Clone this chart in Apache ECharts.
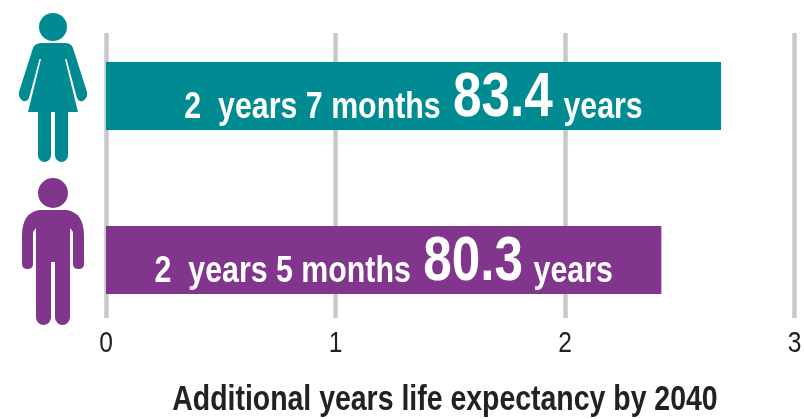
<!DOCTYPE html>
<html>
<head>
<meta charset="utf-8">
<style>html,body{margin:0;padding:0;background:#fff}#c{width:804px;height:419px}</style>
<script src="https://cdn.jsdelivr.net/npm/echarts@6/dist/echarts.min.js"></script>
</head>
<body>
<div id="c"></div>
<script>
const categories = ['Women', 'Men'];
const additionalYears = [2.68, 2.42];
const gainText = ['2  years 7 months', '2  years 5 months'];
const lifeExpectancy = ['83.4', '80.3'];
const barColors = ['#008b92', '#82358c'];
const axisTicks = ['0', '1', '2', '3'];
const axisTitle = 'Additional years life expectancy by 2040';
const FONT = '"Liberation Sans",sans-serif';
const NARROW = 0.82;

const femalePath = 'M42 43L65 43Q71 43 73 48L87 92Q88 98 83 101Q79 102 77 98L66.5 59L65 59L78 112L68 112L68 155.5A6.5 6.5 0 0 1 55 155.5L55 112L51 112L51 155.5A6.5 6.5 0 0 1 38 155.5L38 112L28 112L41 59L39.5 59L29 98Q27 102 23 101Q18 98 19 92L33 48Q35 43 42 43Z';
const malePath = 'M40 210L66 210Q84 212 84 236L84 264Q84 269 78.5 269Q73 269 73 264L73 232L70 228L70 317.5A7.5 7.5 0 0 1 55 317.5L55 262L51 262L51 317.5A7.5 7.5 0 0 1 36 317.5L36 228L33 232L33 264Q33 269 27.5 269Q22 269 22 264L22 236Q22 212 40 210Z';

const chart = echarts.init(document.getElementById('c'), null, {renderer: 'canvas'});
chart.setOption({
  animation: false,
  backgroundColor: '#fff',
  grid: [
    {left: 106, width: 688.5, top: 33, height: 285, outerBoundsMode: 'none'},
    {left: 106, width: 688.5, top: 14, height: 328, outerBoundsMode: 'none'}
  ],
  xAxis: [
    {
      gridIndex: 0, type: 'value', min: 0, max: 3, interval: 1,
      axisLine: {show: false}, axisTick: {show: false},
      splitLine: {show: true, lineStyle: {color: '#c8c8c8', width: 4.5}},
      axisLabel: {
        margin: 11, color: '#222', fontFamily: FONT, fontSize: 30,
        formatter: v => axisTicks[v]
      },
      name: axisTitle, nameLocation: 'middle', nameGap: 65,
      nameTextStyle: {color: '#222', fontFamily: FONT, fontSize: 34.7, fontWeight: 'bold', padding: [0, 13, 0, 0]}
    },
    {gridIndex: 1, type: 'value', min: 0, max: 3, show: false}
  ],
  yAxis: [
    {gridIndex: 0, type: 'category', data: categories, inverse: true, show: false},
    {gridIndex: 1, type: 'category', data: categories, inverse: true, show: false}
  ],
  series: [{
    type: 'bar', xAxisIndex: 1, yAxisIndex: 1, barWidth: 68,
    data: additionalYears.map((v, i) => ({
      value: v,
      itemStyle: {color: barColors[i]},
      label: {
        show: true, position: 'inside', offset: [0, 3],
        formatter: `{s|${gainText[i]}}{b|${lifeExpectancy[i]}}{s|years}`,
        rich: {
          s: {color: '#fff', fontFamily: FONT, fontSize: 37, fontWeight: 'bold', padding: [18, 0, 0, 0]},
          b: {color: '#fff', fontFamily: FONT, fontSize: 62.5, fontWeight: 'bold', padding: [0, 13, 0, 15]}
        }
      }
    }))
  }, {
    type: 'custom', coordinateSystem: 'none', silent: true, data: [[0]],
    renderItem: () => ({
      type: 'group',
      children: [
        {type: 'circle', shape: {cx: 53, cy: 27, r: 14}, style: {fill: barColors[0]}},
        {type: 'path', shape: {pathData: femalePath}, style: {fill: barColors[0]}},
        {type: 'circle', shape: {cx: 53, cy: 193, r: 15}, style: {fill: barColors[1]}},
        {type: 'path', shape: {pathData: malePath}, style: {fill: barColors[1]}}
      ]
    })
  }]
});

// No narrow face is installed: condense every text block around its own anchor.
const zr = chart.getZr();
zr.flush();
const blocks = new Set();
zr.storage.getDisplayList(true).forEach(d => {
  if (d.parent && d.parent.type === 'text') blocks.add(d.parent);
  if (d.type === 'text') blocks.add(d);
});
blocks.forEach(t => { t.scaleX = NARROW; t.markRedraw(); });
zr.refreshImmediately();
</script>
</body>
</html>
